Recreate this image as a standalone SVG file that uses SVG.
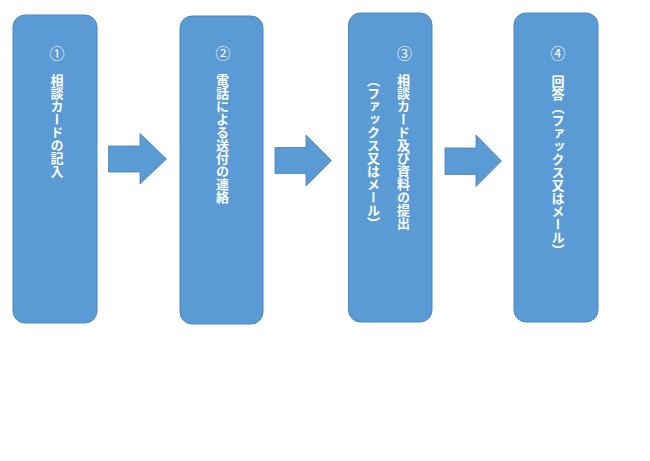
<svg xmlns="http://www.w3.org/2000/svg" width="650" height="461" viewBox="0 0 650 461">
<style>
.box{fill:#5b9bd5;stroke:#4a86c5;stroke-width:1}
.arr{fill:#5b9bd5;stroke:#4a80bd;stroke-width:0.8}
.t{fill:#ffffff;font-family:"Noto Sans CJK JP","Noto Sans",sans-serif;font-size:13px;font-weight:bold}
.v{writing-mode:vertical-rl}
.n{text-anchor:middle;font-size:15px;font-weight:normal}
</style>
<rect width="650" height="461" fill="#ffffff"/>
<g id="connectors">
<path class="arr" d="M108.5,146 H140 V133.5 L166.5,159 L140,184 V172 H108.5 Z"/>
<path class="arr" d="M275,147.5 H306 V135 L331.5,160.5 L306,186 V173.5 H275 Z"/>
<path class="arr" d="M445,148 H476 V135 L501.5,161 L476,186.5 V174.5 H445 Z"/>
</g>
<g id="node1">
<rect class="box" x="13" y="15" width="84" height="308" rx="12"/>
<text class="t n" x="57" y="59">①</text>
<text class="t v" x="57" y="74">相談カードの記入</text>
</g>
<g id="node2">
<rect class="box" x="180" y="16" width="83" height="308" rx="12"/>
<text class="t n" x="223" y="59">②</text>
<text class="t v" x="222.5" y="74">電話による送付の連絡</text>
</g>
<g id="node3">
<rect class="box" x="348.5" y="13" width="83.5" height="309" rx="12"/>
<text class="t n" x="404.5" y="59">③</text>
<text class="t v" x="403.5" y="74">相談カード及び資料の提出</text>
<text class="t v" x="373.5" y="74">（ファックス又はメール）</text>
</g>
<g id="node4">
<rect class="box" x="514" y="13" width="84" height="309" rx="12"/>
<text class="t n" x="558" y="59">④</text>
<text class="t v" x="558" y="75">回答（ファックス又はメール）</text>
</g>
</svg>
